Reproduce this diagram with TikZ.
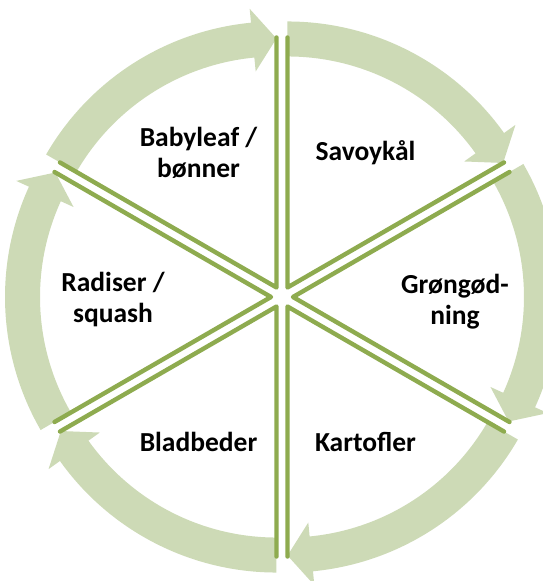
\documentclass[tikz,border=0pt]{standalone}
\usepackage{fontspec}
\setmainfont{Carlito}
\definecolor{myLeaf}{HTML}{CDDAB6}
\definecolor{myOlive}{HTML}{8EAB4F}

\begin{document}
\begin{tikzpicture}[x=1pt, y=1pt,
  band/.style={fill=myLeaf, draw=none},
  edge/.style={draw=myOlive, line width=4.4pt, line cap=round, line join=round},
  lbl/.style={font=\fontsize{27.5}{31}\selectfont\bfseries, align=center}
]
\useasboundingbox (-282,-284) rectangle (261,297);
\clip (-282,-284) rectangle (261,297);
% curved arrows, clockwise
\foreach \a in {150,90,30,-30,-90,-150} {
  \begin{scope}[shift={({\a-30}:11)}]
    \fill[band] (\a:266) arc[start angle=\a, end angle=\a-54.5, radius=266]
      -- ({\a-54.5}:280) -- ({\a-60}:249) -- ({\a-54.5}:217)
      -- ({\a-54.5}:231) arc[start angle=\a-54.5, end angle=\a, radius=231] -- cycle;
  \end{scope}
}
% wedge edges
\foreach \a in {150,90,30,-30,-90,-150} {
  \coordinate (tip\a) at ({\a-30}:11);
  \draw[edge, shift={(tip\a)}] (\a:250) -- (0,0) -- ({\a-60}:250);
}

\node[lbl] (baby)  at (120:167)  {Babyleaf /\\bønner};
\node[lbl] (savoy) at (60:167)   {Savoykål};
\node[lbl] (grong) at (173,-5)   {Grøngød-\\ning};
\node[lbl] (kart)  at (-60:167)  {Kartofler};
\node[lbl] (blad)  at (-120:167) {Bladbeder};
\node[lbl] (radis) at (-169,-3)  {Radiser /\\squash};
\end{tikzpicture}
\end{document}
